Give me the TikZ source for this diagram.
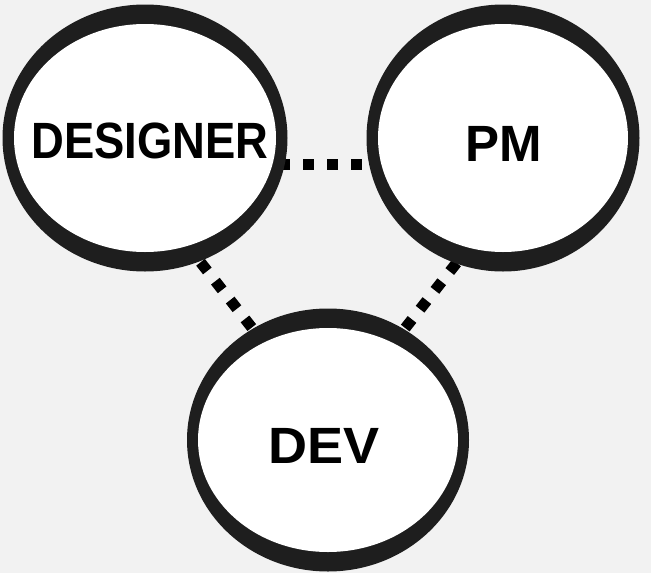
\documentclass[tikz,border=0pt]{standalone}
\usepackage{fontspec}
\setmainfont{Liberation Sans}
\usetikzlibrary{shapes.geometric}
\definecolor{bgc}{HTML}{F2F2F2}
\definecolor{ink}{HTML}{1E1E1E}
\pgfdeclarelayer{bg}
\pgfsetlayers{bg,main}
\begin{document}
\begin{tikzpicture}[x=1pt,y=-1pt,
  bubble/.style={ellipse, fill=ink, draw=none, inner sep=0pt, outer sep=0pt},
  hole/.style={fill=white},
  lbl/.style={font=\bfseries\fontsize{51}{51}\selectfont, inner sep=0pt, text=black},
  conn/.style={line width=11pt, draw=black, line cap=butt, dash pattern=on 11pt off 13pt}]
  \useasboundingbox (0,0) rectangle (651,573);
  % outer shapes (ink) as named nodes
  \node[bubble, minimum width=285pt, minimum height=267pt] (d) at (145,138) {};
  \node[bubble, minimum width=273pt, minimum height=267pt] (p) at (503,138) {};
  \node[bubble, minimum width=282pt, minimum height=263pt] (v) at (328,440) {};
  % white interiors (thin sides, thick top and bottom)
  \fill[hole] (d.center) ellipse [x radius=131pt, y radius=114pt];
  \fill[hole] (p.center) ellipse [x radius=125pt, y radius=114pt];
  \fill[hole] (v.center) ellipse [x radius=130pt, y radius=112pt];
  % labels
  \node[lbl] (dt) at (150,141) {\scalebox{0.89}[1]{DESIGNER}};
  \node[lbl] (pt) at (504,144) {PM};
  \node[lbl] (vt) at (324,446) {\scalebox{1.06}[1]{DEV}};
  \begin{pgfonlayer}{bg}
    \fill[bgc] (0,0) rectangle (651,573);
    \draw[conn, dash phase=10pt] ([yshift=-26pt]d.center) -- ([yshift=-26pt]p.center);
    \draw[conn, dash phase=10pt] ([xshift=-42pt]d.center) -- ([xshift=12pt]v.center);
    \draw[conn, dash phase=9pt] ([xshift=52pt]p.center) -- ([xshift=-11pt]v.center);
  \end{pgfonlayer}
\end{tikzpicture}
\end{document}
